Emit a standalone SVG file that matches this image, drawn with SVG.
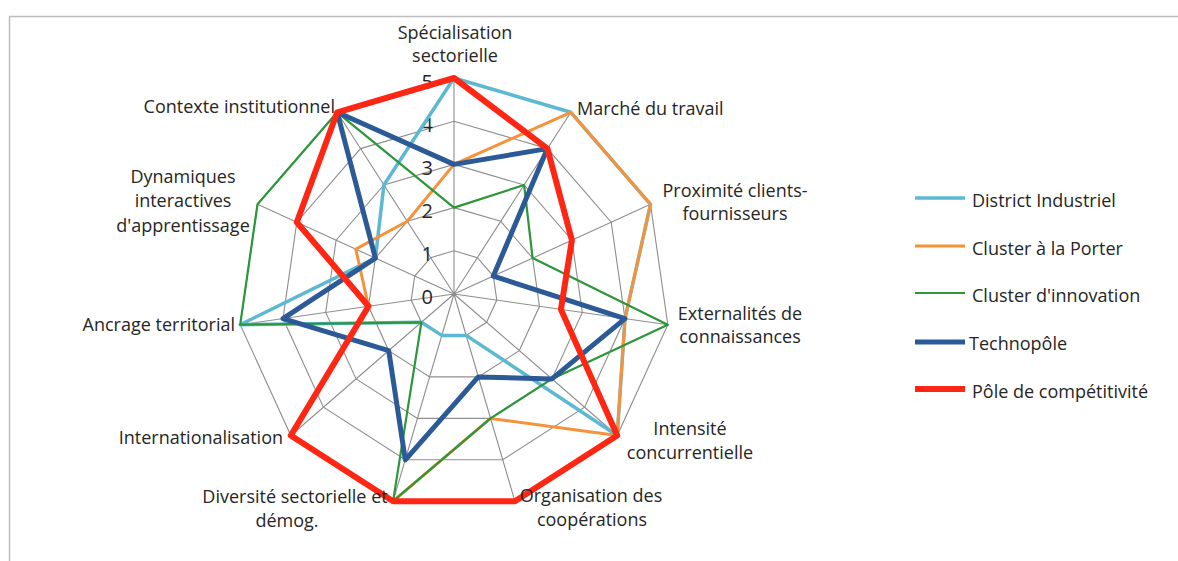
<svg xmlns="http://www.w3.org/2000/svg" width="1178" height="561" viewBox="0 0 1178 561">
<style>
text{font-family:"Open Sans","Liberation Sans",sans-serif;font-size:18px;fill:#262626}
.num{font-size:20px;text-anchor:end}
.m{text-anchor:middle}
.e{text-anchor:end}
.grid{fill:none;stroke:#8e8e8e;stroke-width:1.1}
.s{fill:none;stroke-linejoin:round;stroke-linecap:round}
.di{stroke:#5db8d2;stroke-width:3.5}
.cp{stroke:#f6923a;stroke-width:3}
.ci{stroke:#2b963a;stroke-width:2.2}
.tp{stroke:#2c5a97;stroke-width:5}
.pc{stroke:#ff2614;stroke-width:6}
</style>
<rect width="1178" height="561" fill="#fff"/>
<g id="frame" stroke="#bdbdbd" stroke-width="1.5" fill="none">
<path d="M9.5 561 V16.5 H1178"/>
</g>
<g id="grid" class="grid">
<polygon points="454,250.8 477.4,257.7 493.3,276.1 496.8,300.1 486.6,322.3 466.2,335.4 441.8,335.4 421.4,322.3 411.2,300.1 414.7,276.1 430.6,257.7"/>
<polygon points="454,207.6 500.7,221.3 532.6,258.1 539.5,306.3 519.3,350.6 478.3,376.9 429.7,376.9 388.7,350.6 368.5,306.3 375.4,258.1 407.3,221.3"/>
<polygon points="454,164.4 524.1,185.0 571.9,240.2 582.3,312.4 551.9,378.9 490.5,418.4 417.5,418.4 356.1,378.9 325.7,312.4 336.1,240.2 383.9,185.0"/>
<polygon points="454,121.2 547.4,148.6 611.2,222.2 625.0,318.6 584.6,407.2 502.7,459.8 405.3,459.8 323.4,407.2 283.0,318.6 296.8,222.2 360.6,148.6"/>
<polygon points="454,78 570.8,112.3 650.5,204.3 667.8,324.7 617.2,435.5 514.9,501.2 393.1,501.2 290.8,435.5 240.2,324.7 257.5,204.3 337.2,112.3"/>
<path d="M454 294L454 78M454 294L570.8 112.3M454 294L650.5 204.3M454 294L667.8 324.7M454 294L617.2 435.5M454 294L514.9 501.2M454 294L393.1 501.2M454 294L290.8 435.5M454 294L240.2 324.7M454 294L257.5 204.3M454 294L337.2 112.3"/>
</g>
<g id="scale">
<text class="num" x="433" y="89">5</text>
<text class="num" x="433" y="131.5">4</text>
<text class="num" x="433" y="174.5">3</text>
<text class="num" x="433" y="217.5">2</text>
<text class="num" x="433" y="260.5">1</text>
<text class="num" x="433" y="303.5">0</text>
</g>
<g id="series">
<polygon id="district-industriel" class="s di" points="454,78 570.8,112.3 650.5,204.3 625.0,318.6 617.2,435.5 466.2,335.4 441.8,335.4 421.4,322.3 240.2,324.7 375.4,258.1 383.9,185.0"/>
<polygon id="cluster-porter" class="s cp" points="454,164.4 570.8,112.3 650.5,204.3 625.0,318.6 617.2,435.5 490.5,418.4 393.1,501.2 290.8,435.5 368.5,306.3 355.8,249.1 407.3,221.3"/>
<polygon id="cluster-innovation" class="s ci" points="454,207.6 524.1,185.0 532.6,258.1 667.8,324.7 551.9,378.9 490.5,418.4 393.1,501.2 421.4,322.3 240.2,324.7 257.5,204.3 337.2,112.3"/>
<polygon id="technopole" class="s tp" points="454,164.4 547.4,148.6 493.3,276.1 625.0,318.6 551.9,378.9 478.3,376.9 405.3,459.8 388.7,350.6 283.0,318.6 375.4,258.1 337.2,112.3"/>
<polygon id="pole-competitivite" class="s pc" points="454,78 547.4,148.6 571.9,240.2 560.9,309.4 617.2,435.5 514.9,501.2 393.1,501.2 290.8,435.5 368.5,306.3 296.8,222.2 337.2,112.3"/>
</g>
<g id="axis-labels">
<g id="lbl-specialisation"><text class="m" x="455" y="39">Spécialisation</text><text class="m" x="455" y="62">sectorielle</text></g>
<g id="lbl-marche"><text x="577" y="115">Marché du travail</text></g>
<g id="lbl-proximite"><text class="m" x="735" y="197">Proximité clients-</text><text class="m" x="735" y="220">fournisseurs</text></g>
<g id="lbl-externalites"><text class="m" x="740" y="320">Externalités de</text><text class="m" x="740" y="343">connaissances</text></g>
<g id="lbl-intensite"><text class="m" x="690" y="435">Intensité</text><text class="m" x="690" y="459">concurrentielle</text></g>
<g id="lbl-organisation"><text class="m" x="591" y="502">Organisation des</text><text class="m" x="592" y="526">coopérations</text></g>
<g id="lbl-diversite"><text class="m" x="295" y="503">Diversité sectorielle et</text><text class="m" x="287" y="527">démog.</text></g>
<g id="lbl-internationalisation"><text class="e" x="283" y="444">Internationalisation</text></g>
<g id="lbl-ancrage"><text class="e" x="235" y="331">Ancrage territorial</text></g>
<g id="lbl-dynamiques"><text class="m" x="183" y="183">Dynamiques</text><text class="m" x="183" y="207">interactives</text><text class="m" x="183" y="232">d'apprentissage</text></g>
<g id="lbl-contexte"><text class="e" x="335" y="113">Contexte institutionnel</text></g>
</g>
<g id="legend">
<g id="leg-district"><line x1="915" y1="198" x2="965" y2="198" class="di"/><text x="972" y="207">District Industriel</text></g>
<g id="leg-porter"><line x1="915" y1="246" x2="965" y2="246" class="cp"/><text x="972" y="255">Cluster à la Porter</text></g>
<g id="leg-innovation"><line x1="915" y1="293" x2="965" y2="293" class="ci"/><text x="972" y="302">Cluster d'innovation</text></g>
<g id="leg-technopole"><line x1="915" y1="342" x2="965" y2="342" class="tp"/><text x="969" y="350">Technopôle</text></g>
<g id="leg-pole"><line x1="915" y1="389" x2="965" y2="389" class="pc"/><text x="972" y="398">Pôle de compétitivité</text></g>
</g>
</svg>
